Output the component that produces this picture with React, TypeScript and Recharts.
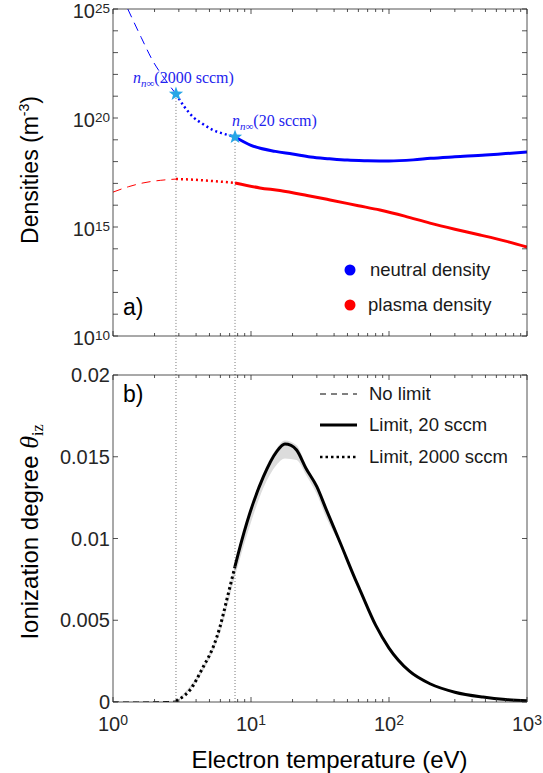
import React from 'react';
import { ComposedChart, Line, Area, Scatter, XAxis, YAxis, ReferenceLine } from 'recharts';

// electron temperature ticks (eV), log axis
const tempTicks = [1, 2, 3, 4, 5, 6, 7, 8, 9, 10, 20, 30, 40, 50, 60, 70, 80, 90, 100, 200, 300, 400, 500, 600, 700, 800, 900, 1000];
const densityTicks = [1e10, 1e11, 1e12, 1e13, 1e14, 1e15, 1e16, 1e17, 1e18, 1e19, 1e20, 1e21, 1e22, 1e23, 1e24, 1e25];
const densityLabels = [1e10, 1e15, 1e20, 1e25];
const thetaTicks = [0, 0.005, 0.01, 0.015, 0.02];

// flow limits (Te where the limit is reached)
const limit2000T = 2.86;
const limit20T = 7.66;

// neutral density (m^-3)
const neutralDashT = [1.28, 1.6, 1.95, 2.4, 2.86];
const neutralDashN = [1.0e25, 5.0e23, 4.0e22, 5.6e21, 1.26e21];
const neutralDotT = [2.86, 3.3, 3.8, 4.5, 5.3, 6.4, 7.66];
const neutralDotN = [1.26e21, 3.2e20, 1.12e20, 5.2e19, 2.8e19, 1.86e19, 1.35e19];
const neutralSolidT = [7.66, 10, 15, 20, 27, 37, 50, 70, 100, 150, 200, 300, 500, 700, 1000];
const neutralSolidN = [1.35e19, 5.6e18, 2.95e18, 2.24e18, 1.62e18, 1.35e18, 1.17e18, 1.1e18, 1.07e18, 1.2e18, 1.41e18, 1.66e18, 2.0e18, 2.34e18, 2.75e18];

// plasma density (m^-3)
const plasmaDashT = [1, 1.3, 1.65, 2.2, 2.86];
const plasmaDashN = [3.98e16, 7.1e16, 1.05e17, 1.38e17, 1.58e17];
const plasmaDotT = [2.86, 3.6, 4.5, 5.8, 7.66];
const plasmaDotN = [1.58e17, 1.51e17, 1.38e17, 1.23e17, 1.05e17];
const plasmaSolidT = [7.66, 11.6, 16.2, 25.5, 37.4, 60, 86, 130, 198, 300, 457, 700, 1000];
const plasmaSolidN = [1.05e17, 6.2e16, 4.7e16, 2.8e16, 1.74e16, 9.5e15, 6.0e15, 3.16e15, 1.51e15, 7.9e14, 4.3e14, 2.24e14, 1.2e14];

// ionization degree
const noLimitT = [1, 1.5, 2, 2.5, 2.86];
const noLimitTheta = [0, 0, 0.00001, 0.00003, 0.00006];
const lim2000T = [2.86, 3.06, 3.61, 4.51, 5.33, 5.96, 6.67, 7.44, 7.66];
const lim2000Theta = [0.00006, 0.0002, 0.00073, 0.00216, 0.00338, 0.0046, 0.00624, 0.00787, 0.0083];
const lim20T = [7.66, 8.1, 9.8, 12.3, 15.3, 17.6, 19.5, 21.4, 25, 30, 35, 45, 57, 62, 80, 100, 140, 200, 300, 480, 700, 1000];
const lim20Theta = [0.0083, 0.0091, 0.01154, 0.01378, 0.0153, 0.01578, 0.0157, 0.01541, 0.0143, 0.01317, 0.0118, 0.0096, 0.0075, 0.0068, 0.0047, 0.0033, 0.0019, 0.0011, 0.0006, 0.0003, 0.00015, 0.00008];
const bandT = [3, 4.5, 6, 7.66, 10, 12.3, 15.3, 17.6, 21.4, 25, 30, 35, 45];
const bandLow = [0.0001, 0.0019, 0.0043, 0.0077, 0.011, 0.0131, 0.0145, 0.0149, 0.0148, 0.0139, 0.0127, 0.0113, 0.0096];
const bandHigh = [0.0002, 0.0022, 0.0047, 0.0084, 0.0118, 0.014, 0.0155, 0.016, 0.0157, 0.0145, 0.0132, 0.0119, 0.0096];

const pts = (t: number[], v: number[]) => t.map((T, i) => ({ T, v: v[i] }));
const band = bandT.map((T, i) => ({ T, range: [bandLow[i], bandHigh[i]] }));
const stars = [
  { T: limit2000T, v: neutralDotN[0] },
  { T: limit20T, v: neutralSolidN[0] },
];

const AX = '#262626';
const FONT = '"Liberation Sans", Arial, Helvetica, sans-serif';
const SERIF = '"Liberation Serif", "Times New Roman", serif';
const isPow10 = (v: number) => Math.abs(Math.log10(v) - Math.round(Math.log10(v))) < 1e-6;

function Pow({ x, y, exp, anchor, rise = 6.5, sup = 14 }: { x: number; y: number; exp: number; anchor: string; rise?: number; sup?: number }) {
  return (
    <text x={x} y={y} textAnchor={anchor} fill={AX} fontSize={20} fontFamily={FONT}>
      <tspan>10</tspan>
      <tspan dy={-rise} fontSize={sup}>{exp}</tspan>
    </text>
  );
}

// inward ticks, MATLAB style
const bottomTick = (labels: boolean) => (p: any) => {
  const v = p.payload.value;
  const major = isPow10(v);
  return (
    <g>
      <line x1={p.x} x2={p.x} y1={p.y} y2={p.y - (major ? 5 : 3)} stroke={AX} strokeWidth={0.8} />
      {labels && major && <Pow x={p.x} y={p.y + 29} exp={Math.round(Math.log10(v))} anchor="middle" />}
    </g>
  );
};
const topTick = (p: any) => {
  const major = isPow10(p.payload.value);
  return <line x1={p.x} x2={p.x} y1={p.y} y2={p.y + (major ? 5 : 3)} stroke={AX} strokeWidth={0.8} />;
};
const leftLogTick = (p: any) => {
  const v = p.payload.value;
  const lbl = densityLabels.some((d) => Math.abs(Math.log10(d) - Math.log10(v)) < 1e-6);
  return (
    <g>
      <line x1={p.x} x2={p.x + 5} y1={p.y} y2={p.y} stroke={AX} strokeWidth={0.8} />
      {lbl && <Pow x={p.x - 3} y={p.y + 9} exp={Math.round(Math.log10(v))} anchor="end" rise={5.5} sup={13.5} />}
    </g>
  );
};
const leftLinTick = (p: any) => (
  <g>
    <line x1={p.x} x2={p.x + 5} y1={p.y} y2={p.y} stroke={AX} strokeWidth={0.8} />
    <text x={p.x - 3} y={p.y + 7} textAnchor="end" fill={AX} fontSize={20} fontFamily={FONT}>
      {String(p.payload.value)}
    </text>
  </g>
);
const rightTick = (p: any) => <line x1={p.x} x2={p.x - 5} y1={p.y} y2={p.y} stroke={AX} strokeWidth={0.8} />;

const StarShape = (p: any) => {
  const { cx, cy } = p;
  const out: string[] = [];
  for (let i = 0; i < 10; i++) {
    const r = i % 2 === 0 ? 7.5 : 3.1;
    const a = -Math.PI / 2 + (i * Math.PI) / 5;
    out.push(`${cx + r * Math.cos(a)},${cy + r * Math.sin(a)}`);
  }
  return <polygon points={out.join(' ')} fill="#27a6e6" />;
};

const axisLine = { stroke: AX, strokeWidth: 0.8 };
const common = { tickSize: 0, tickMargin: 0, tickLine: false, axisLine, interval: 0 as const, allowDataOverflow: true };
const legendText = { position: 'absolute' as const, fontSize: 18.5, color: '#1a1a1a', lineHeight: '22px', whiteSpace: 'nowrap' as const };

export default function App() {
  const nnLabel = (sccm: string, left: number, top: number) => (
    <div style={{ position: 'absolute', left, top, fontFamily: SERIF, fontSize: 16, color: '#2323ee', whiteSpace: 'nowrap', lineHeight: '20px' }}>
      <i>n</i>
      <span style={{ fontSize: 11, position: 'relative', top: 4 }}><i>n</i>∞</span>({sccm} sccm)
    </div>
  );

  return (
    <div style={{ position: 'absolute', left: 0, top: 0, width: 543, height: 773, fontFamily: FONT, background: '#fff' }}>
      {/* a) densities */}
      <div style={{ position: 'absolute', left: 0, top: 0 }}>
        <ComposedChart width={543} height={360} margin={{ top: 8, right: 15, bottom: 23, left: 112 }}>
          <XAxis dataKey="T" type="number" scale="log" domain={[1, 1000]} ticks={tempTicks} height={1} tick={bottomTick(false)} {...common} />
          <XAxis xAxisId="t" dataKey="T" orientation="top" type="number" scale="log" domain={[1, 1000]} ticks={tempTicks} height={1} tick={topTick} {...common} />
          <YAxis type="number" scale="log" domain={[1e10, 1e25]} ticks={densityTicks} width={1} tick={leftLogTick} {...common} />
          <YAxis yAxisId="r" orientation="right" type="number" scale="log" domain={[1e10, 1e25]} ticks={densityTicks} width={1} tick={rightTick} {...common} />
          <ReferenceLine segment={[{ x: limit2000T, y: 8e8 }, { x: limit2000T, y: neutralDotN[0] }]} ifOverflow="visible" stroke="#7a7a7a" strokeDasharray="1 2" strokeWidth={1} />
          <ReferenceLine segment={[{ x: limit20T, y: 8e8 }, { x: limit20T, y: neutralSolidN[0] }]} ifOverflow="visible" stroke="#7a7a7a" strokeDasharray="1 2" strokeWidth={1} />
          <Line data={pts(neutralDashT, neutralDashN)} dataKey="v" type="monotone" stroke="#0000ff" strokeWidth={1} strokeDasharray="9 6" dot={false} isAnimationActive={false} />
          <Line data={pts(neutralDotT, neutralDotN)} dataKey="v" type="monotone" stroke="#0000ff" strokeWidth={2.5} strokeDasharray="2 3" dot={false} isAnimationActive={false} />
          <Line data={pts(neutralSolidT, neutralSolidN)} dataKey="v" type="monotone" stroke="#0000ff" strokeWidth={3} dot={false} isAnimationActive={false} />
          <Line data={pts(plasmaDashT, plasmaDashN)} dataKey="v" type="monotone" stroke="#ff0000" strokeWidth={1} strokeDasharray="9 6" dot={false} isAnimationActive={false} />
          <Line data={pts(plasmaDotT, plasmaDotN)} dataKey="v" type="monotone" stroke="#ff0000" strokeWidth={2.5} strokeDasharray="2 3" dot={false} isAnimationActive={false} />
          <Line data={pts(plasmaSolidT, plasmaSolidN)} dataKey="v" type="monotone" stroke="#ff0000" strokeWidth={3} dot={false} isAnimationActive={false} />
          <Scatter data={stars} dataKey="v" shape={StarShape} isAnimationActive={false} />
        </ComposedChart>
      </div>

      {/* b) ionization degree */}
      <div style={{ position: 'absolute', left: 0, top: 360 }}>
        <ComposedChart width={543} height={413} margin={{ top: 14, right: 15, bottom: 70, left: 112 }}>
          <XAxis dataKey="T" type="number" scale="log" domain={[1, 1000]} ticks={tempTicks} height={1} tick={bottomTick(true)} {...common} />
          <XAxis xAxisId="t" dataKey="T" orientation="top" type="number" scale="log" domain={[1, 1000]} ticks={tempTicks} height={1} tick={topTick} {...common} />
          <YAxis type="number" domain={[0, 0.02]} ticks={thetaTicks} width={1} tick={leftLinTick} {...common} />
          <YAxis yAxisId="r" orientation="right" type="number" domain={[0, 0.02]} ticks={thetaTicks} width={1} tick={rightTick} {...common} />
          <Area data={band} dataKey="range" type="monotone" stroke="none" fill="#dcdcdc" fillOpacity={1} isAnimationActive={false} />
          <ReferenceLine segment={[{ x: limit2000T, y: 0 }, { x: limit2000T, y: 0.021 }]} ifOverflow="visible" stroke="#7a7a7a" strokeDasharray="1 2" strokeWidth={1} />
          <ReferenceLine segment={[{ x: limit20T, y: 0 }, { x: limit20T, y: 0.021 }]} ifOverflow="visible" stroke="#7a7a7a" strokeDasharray="1 2" strokeWidth={1} />
          <Line data={pts(noLimitT, noLimitTheta)} dataKey="v" type="monotone" stroke="#000" strokeWidth={1} strokeDasharray="6 4" dot={false} isAnimationActive={false} />
          <Line data={pts(lim2000T, lim2000Theta)} dataKey="v" type="monotone" stroke="#000" strokeWidth={3} strokeDasharray="2.5 3" dot={false} isAnimationActive={false} />
          <Line data={pts(lim20T, lim20Theta)} dataKey="v" type="monotone" stroke="#000" strokeWidth={3} dot={false} isAnimationActive={false} />
        </ComposedChart>
      </div>

      {/* annotations */}
      {nnLabel('2000', 133, 68)}
      {nnLabel('20', 232, 111)}
      <div style={{ position: 'absolute', left: 123, top: 294, fontSize: 23, color: '#000' }}>a)</div>
      <div style={{ position: 'absolute', left: 123, top: 381, fontSize: 23, color: '#000' }}>b)</div>

      {/* legend a */}
      <svg style={{ position: 'absolute', left: 340, top: 260 }} width={20} height={60}>
        <circle cx={10} cy={10} r={5.5} fill="#0000ff" />
        <circle cx={10} cy={45} r={5.5} fill="#ff0000" />
      </svg>
      <div style={{ ...legendText, left: 370, top: 259 }}>neutral density</div>
      <div style={{ ...legendText, left: 368, top: 294 }}>plasma density</div>

      {/* legend b */}
      <svg style={{ position: 'absolute', left: 318, top: 384 }} width={42} height={80}>
        <line x1={2} x2={39} y1={10} y2={10} stroke="#000" strokeWidth={1} strokeDasharray="6 5" />
        <line x1={2} x2={39} y1={41} y2={41} stroke="#000" strokeWidth={3} />
        <line x1={2} x2={39} y1={73} y2={73} stroke="#000" strokeWidth={2.5} strokeDasharray="2.5 3" />
      </svg>
      <div style={{ ...legendText, left: 369, top: 383 }}>No limit</div>
      <div style={{ ...legendText, left: 369, top: 414 }}>Limit, 20 sccm</div>
      <div style={{ ...legendText, left: 369, top: 446 }}>Limit, 2000 sccm</div>

      {/* axis titles */}
      <div style={{ position: 'absolute', left: 30, top: 170, transform: 'translate(-50%, -50%) rotate(-90deg)', whiteSpace: 'nowrap', fontSize: 23, color: '#000' }}>
        Densities (m<sup style={{ fontSize: 14 }}>-3</sup>)
      </div>
      <div style={{ position: 'absolute', left: 30, top: 532, transform: 'translate(-50%, -50%) rotate(-90deg)', whiteSpace: 'nowrap', fontSize: 24, color: '#000' }}>
        Ionization degree{' '}
        <span style={{ fontFamily: SERIF, fontStyle: 'italic', fontSize: 26 }}>θ</span>
        <span style={{ fontFamily: SERIF, fontSize: 16, position: 'relative', top: 5 }}>iz</span>
      </div>
      <div style={{ position: 'absolute', left: 0, width: 543, top: 760, transform: 'translateY(-50%)', paddingLeft: 116, boxSizing: 'border-box', textAlign: 'center', fontSize: 24, color: '#000', whiteSpace: 'nowrap' }}>
        Electron temperature (eV)
      </div>
    </div>
  );
}
